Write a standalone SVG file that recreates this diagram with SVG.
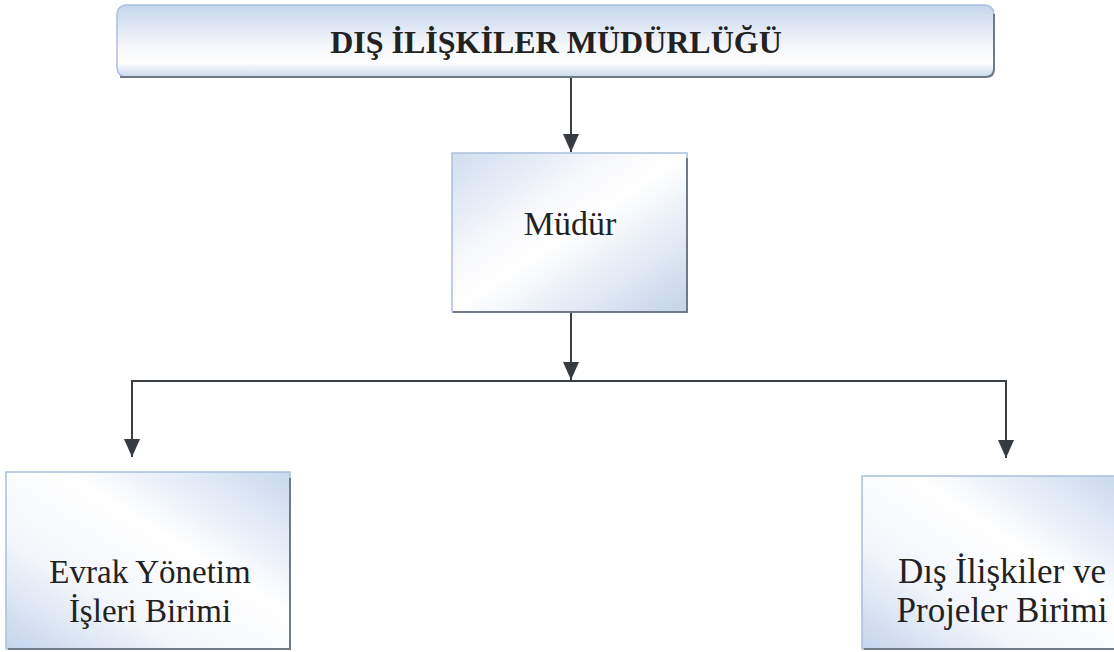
<svg xmlns="http://www.w3.org/2000/svg" width="1114" height="652" viewBox="0 0 1114 652">
<style>
.box{stroke:#a9c0dd;stroke-width:1.5}
.sh{fill:none;stroke:#6f7a86;stroke-width:2}
.t{font-family:"Liberation Serif","DejaVu Serif",serif;fill:#222;text-anchor:middle}
.conn{stroke:#3a3f44;stroke-width:2;fill:none}
</style>
<defs>
<linearGradient id="g1" x1="0" y1="0" x2="0" y2="1">
<stop offset="0" stop-color="#c4d5ec"/>
<stop offset="0.55" stop-color="#f4f6fa"/>
<stop offset="0.8" stop-color="#ffffff"/>
<stop offset="1" stop-color="#c9d8ee"/>
</linearGradient>
<linearGradient id="g2" x1="0" y1="0" x2="1" y2="1">
<stop offset="0" stop-color="#d0ddef"/>
<stop offset="0.35" stop-color="#f7f8fb"/>
<stop offset="0.5" stop-color="#ffffff"/>
<stop offset="0.75" stop-color="#e2eaf4"/>
<stop offset="1" stop-color="#c2d3ea"/>
</linearGradient>
<linearGradient id="g3" x1="1" y1="0" x2="0" y2="1">
<stop offset="0" stop-color="#c8d8ee"/>
<stop offset="0.4" stop-color="#ffffff"/>
<stop offset="0.7" stop-color="#f2f5fa"/>
<stop offset="1" stop-color="#c4d5ec"/>
</linearGradient>
<marker id="arr" markerWidth="18" markerHeight="16" refX="18" refY="8" orient="auto" markerUnits="userSpaceOnUse" viewBox="0 0 18 16">
<path d="M0,0 L18,8 L0,16 Z" fill="#353b40"/>
</marker>
</defs>
<g id="connectors">
<line class="conn" x1="571" y1="78" x2="571" y2="152" marker-end="url(#arr)"/>
<line class="conn" x1="571" y1="312" x2="571" y2="380" marker-end="url(#arr)"/>
<polyline class="conn" points="132,381 1006,381"/>
<line class="conn" x1="132" y1="380" x2="132" y2="457" marker-end="url(#arr)"/>
<line class="conn" x1="1006" y1="380" x2="1006" y2="458" marker-end="url(#arr)"/>
</g>
<g id="node-top">
<rect class="box" x="117" y="5" width="877" height="72" rx="9" fill="url(#g1)"/>
<path class="sh" d="M120,77 H986 Q994,77 994,69 V14"/>
<text class="t" x="556" y="53" font-size="32" font-weight="bold">DIŞ İLİŞKİLER MÜDÜRLÜĞÜ</text>
</g>
<g id="node-mudur">
<rect class="box" x="452" y="153" width="235" height="159" fill="url(#g2)"/>
<path class="sh" d="M453,312 H687 V158"/>
<text class="t" x="570" y="235" font-size="34">Müdür</text>
</g>
<g id="node-evrak">
<rect class="box" x="6" y="472" width="284" height="177" fill="url(#g3)"/>
<path class="sh" d="M8,649 H290 V478"/>
<text class="t" x="150" y="583" font-size="33">Evrak Yönetim</text>
<text class="t" x="150" y="622" font-size="33">İşleri Birimi</text>
</g>
<g id="node-dis">
<rect class="box" x="862" y="476" width="260" height="173" fill="url(#g3)"/>
<path class="sh" d="M864,649 H1114"/>
<text class="t" x="1002" y="583" font-size="35">Dış İlişkiler ve</text>
<text class="t" x="1002" y="622" font-size="35">Projeler Birimi</text>
</g>
</svg>
